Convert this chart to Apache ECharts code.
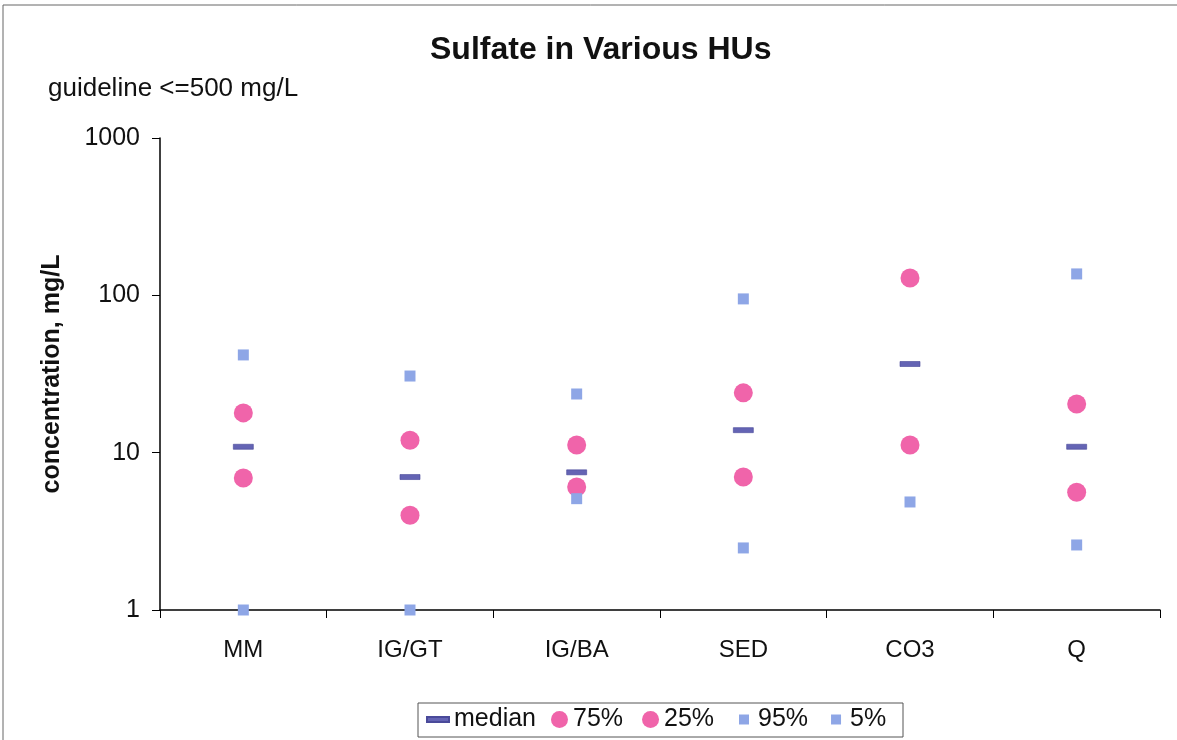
<!DOCTYPE html>
<html>
<head>
<meta charset="utf-8">
<script src="https://cdn.jsdelivr.net/npm/echarts@6/dist/echarts.min.js"></script>
<style>
html,body{margin:0;padding:0;background:#fff;}
#chart{width:1177px;height:740px;}
</style>
</head>
<body>
<div id="chart"></div>
<script>
const categories = ['MM', 'IG/GT', 'IG/BA', 'SED', 'CO3', 'Q'];
const median = [10.9, 7.0, 7.5, 13.9, 36.6, 10.9];
const p75 = [17.9, 12.0, 11.2, 24.0, 129, 20.4];
const p25 = [6.9, 4.0, 6.05, 7.0, 11.2, 5.6];
const p95 = [41.8, 30.7, 23.6, 94.9, null, 136.8];
const p5 = [1.0, 1.0, 5.1, 2.48, 4.86, 2.59];
const yTicks = [1, 10, 100, 1000];

const chart = echarts.init(document.getElementById('chart'));
const FONT = 'Liberation Sans, Arial, sans-serif';
const pink = '#F064AA';
const blue = '#8EA6E6';
const medColor = '#6464B4';
const legendText = {fontFamily: FONT, fontSize: 25, color: '#111'};

function series(name, data, symbol, size, color, z, border) {
  return {
    name: name, type: 'scatter', data: data, symbol: symbol, symbolSize: size, z: z,
    itemStyle: Object.assign({color: color, opacity: 1}, border || {}),
    emphasis: {disabled: true}
  };
}

chart.setOption({
  animation: false,
  backgroundColor: '#fff',
  title: {
    text: 'Sulfate in Various HUs', left: 425, top: 29,
    textStyle: {fontFamily: FONT, fontSize: 32, fontWeight: 'bold', color: '#111'}
  },
  graphic: [
    {type: 'text', left: 48, top: 76, style: {text: 'guideline <=500 mg/L', fontFamily: FONT, fontSize: 26, fill: '#111'}},
    {type: 'rect', shape: {x: 3, y: 5, width: 1190, height: 760}, style: {fill: 'none', stroke: '#666', lineWidth: 1}, silent: true},
    {type: 'rect', shape: {x: 418, y: 703, width: 485, height: 34}, style: {fill: 'none', stroke: '#555', lineWidth: 1}, silent: true}
  ],
  legend: [
    {left: 426, top: 707, padding: 0, itemWidth: 22, itemHeight: 5, itemGap: 10,
      textStyle: legendText, data: [{name: 'median', icon: 'rect'}]},
    {left: 551, top: 707, padding: 0, itemWidth: 17, itemHeight: 17, itemGap: 19,
      textStyle: legendText, data: [{name: '75%', icon: 'circle'}, {name: '25%', icon: 'circle'}]},
    {left: 739, top: 707, padding: 0, itemWidth: 10, itemHeight: 10, itemGap: 23,
      textStyle: Object.assign({}, legendText, {padding: [0, 0, 0, 4]}), data: [{name: '95%', icon: 'rect'}, {name: '5%', icon: 'rect'}]}
  ],
  grid: {left: 160, right: 17, top: 138, bottom: 130},
  xAxis: {
    type: 'category', data: categories, boundaryGap: true,
    axisLine: {lineStyle: {color: '#000', width: 1.5}},
    axisTick: {show: true, length: 8, inside: false, lineStyle: {color: '#000'}},
    axisLabel: {fontFamily: FONT, fontSize: 24, color: '#111', margin: 28},
    splitLine: {show: false}
  },
  yAxis: {
    type: 'log', logBase: 10, min: 1, max: 1000,
    name: 'concentration, mg/L', nameLocation: 'middle', nameGap: 95,
    nameTextStyle: {fontFamily: FONT, fontSize: 25, fontWeight: 'bold', color: '#111'},
    axisLine: {show: true, lineStyle: {color: '#000', width: 1.5}},
    axisTick: {show: true, length: 8, lineStyle: {color: '#000'}},
    axisLabel: {fontFamily: FONT, fontSize: 25, color: '#111', margin: 20,
      formatter: function (v) { return yTicks.indexOf(Math.round(v)) >= 0 ? String(Math.round(v)) : ''; }},
    splitLine: {show: false}
  },
  series: [
    series('median', median, 'rect', [20, 5], medColor, 2, {borderColor: '#4A4A9A', borderWidth: 0.5}),
    series('75%', p75, 'circle', 19, pink, 3),
    series('25%', p25, 'circle', 19, pink, 3),
    series('95%', p95, 'rect', 11, blue, 4),
    series('5%', p5, 'rect', 11, blue, 4)
  ]
});
</script>
</body>
</html>
